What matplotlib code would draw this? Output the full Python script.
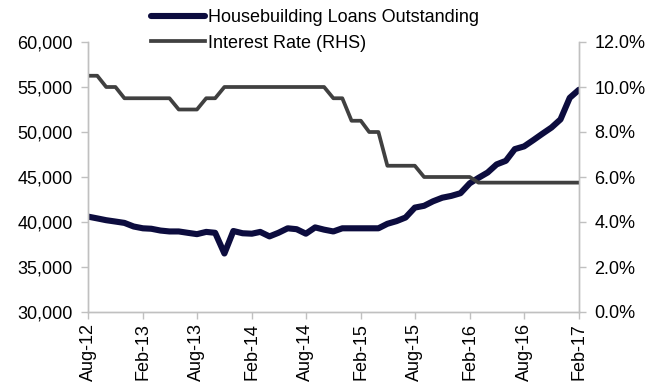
import matplotlib.pyplot as plt
import matplotlib.dates as mdates
import matplotlib.ticker as mticker
import pandas as pd

plt.rcParams['font.family'] = ['Liberation Sans', 'DejaVu Sans']

# помесячные данные, авг-2012 .. фев-2017
months = pd.date_range('2012-08-01', '2017-02-01', freq='MS')

loans = [40600, 40400, 40200, 40050, 39900, 39500, 39300, 39250, 39050, 38950,
         38950, 38800, 38650, 38900, 38800, 36500, 39000, 38750, 38700, 38900,
         38400, 38800, 39300, 39200, 38700, 39400, 39150, 38950, 39300, 39300,
         39300, 39300, 39300, 39800, 40100, 40500, 41600, 41800, 42300, 42700,
         42900, 43200, 44300, 44900, 45500, 46400, 46800, 48100, 48400, 49100,
         49800, 50500, 51400, 53800, 54700]

rate = [10.5, 10.5, 10.0, 10.0, 9.5, 9.5, 9.5, 9.5, 9.5, 9.5,
        9.0, 9.0, 9.0, 9.5, 9.5, 10.0, 10.0, 10.0, 10.0, 10.0,
        10.0, 10.0, 10.0, 10.0, 10.0, 10.0, 10.0, 9.5, 9.5, 8.5,
        8.5, 8.0, 8.0, 6.5, 6.5, 6.5, 6.5, 6.0, 6.0, 6.0,
        6.0, 6.0, 6.0, 5.75, 5.75, 5.75, 5.75, 5.75, 5.75, 5.75,
        5.75, 5.75, 5.75, 5.75, 5.75]

fig = plt.figure(figsize=(6.6, 3.83), dpi=100)
ax = fig.add_axes([88 / 660, 1 - 312 / 383, (579 - 88) / 660, 270 / 383])
ax2 = ax.twinx()

l1, = ax.plot(months, loans, color='#0c0c3e', lw=4.4, solid_joinstyle='round',
              solid_capstyle='round', label='Housebuilding Loans Outstanding')
l2, = ax2.plot(months, rate, color='#404040', lw=2.7, label='Interest Rate (RHS)')

# оси
ax.set_xlim(months[0], months[-1])
ax.set_ylim(30000, 60000)
ax.yaxis.set_major_locator(mticker.MultipleLocator(5000))
ax.yaxis.set_major_formatter(mticker.StrMethodFormatter('{x:,.0f}'))
ax2.set_ylim(0, 12)
ax2.yaxis.set_major_locator(mticker.MultipleLocator(2))
ax2.yaxis.set_major_formatter(mticker.FuncFormatter(lambda v, p: f'{v:.1f}%'))

ax.xaxis.set_major_locator(mdates.MonthLocator(bymonth=[2, 8]))
ax.xaxis.set_major_formatter(mdates.DateFormatter('%b-%y'))
plt.setp(ax.get_xticklabels(), rotation=90)

for a in (ax, ax2):
    a.spines['top'].set_visible(False)
    for s in ('left', 'right', 'bottom'):
        a.spines[s].set_color('#c0c0c0')
        a.spines[s].set_linewidth(1)
    a.tick_params(colors='#c0c0c0', labelcolor='black', labelsize=13,
                  length=5, width=1, direction='out')
ax.tick_params(axis='y', pad=6)
ax2.tick_params(axis='y', pad=6)
ax.tick_params(axis='x', pad=3)

fig.legend(handles=[l1, l2], loc='upper left', bbox_to_anchor=(151 / 660, 1 - 9 / 383),
           frameon=False, fontsize=13, handlelength=3.0, handletextpad=0.15,
           labelspacing=0.48, borderpad=0, borderaxespad=0)

fig.savefig('out.png', dpi=100)
